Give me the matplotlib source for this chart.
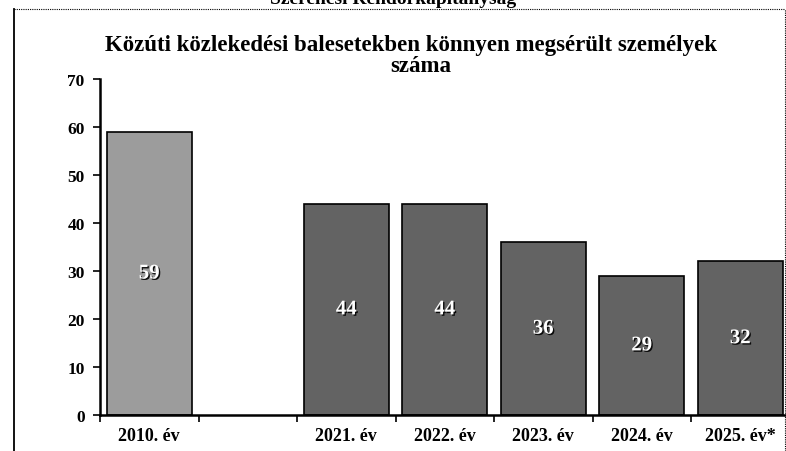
import numpy as np
import matplotlib
matplotlib.use("Agg")
import matplotlib.pyplot as plt
import matplotlib.patheffects as pe
from matplotlib.lines import Line2D

plt.rcParams['font.family'] = ['Liberation Serif', 'DejaVu Serif']

header = "Szerencsi Rendőrkapitányság"
title_lines = ["Közúti közlekedési balesetekben könnyen megsérült személyek", "száma"]
categories = ["2010. év", "", "2021. év", "2022. év", "2023. év", "2024. év", "2025. év*"]
values = [59, np.nan, 44, 44, 36, 29, 32]
bar_colors = ["#9c9c9c", "#ffffff", "#636363", "#636363", "#636363", "#636363", "#636363"]
yticks = [0, 10, 20, 30, 40, 50, 60, 70]

fig = plt.figure(figsize=(7.86, 4.52), dpi=100)
ax = fig.add_axes([100/786, 1-416/452, 689.5/786, 336/452])

x = np.arange(len(categories))
for xi, v, c in zip(x, values, bar_colors):
    if np.isnan(v):
        continue
    ax.bar(xi, v, width=0.86, color=c, edgecolor="black", linewidth=1.2, zorder=2)
    ax.text(xi, v/2, f"{v:g}", ha="center", va="center", color="white",
            fontsize=15, fontweight="bold", zorder=3,
            path_effects=[pe.withSimplePatchShadow(offset=(1, -1), shadow_rgbFace="black", alpha=0.9)])

ax.set_xlim(-0.5, len(categories)-0.5)
ax.set_ylim(0, 70)
ax.set_yticks(yticks)
ax.set_yticklabels([str(t) for t in yticks], fontsize=12.5, fontweight="bold")
ax.set_xticks(np.arange(len(categories)+1) - 0.5)
ax.set_xticklabels([])
ax.set_xticks(x, minor=True)
ax.set_xticklabels(categories, minor=True, fontsize=13, fontweight="bold")
ax.tick_params(axis="x", which="major", length=5, width=1.2, direction="out")
ax.tick_params(axis="x", which="minor", length=0, pad=9)
ax.tick_params(axis="y", length=5, width=1.2, direction="out", pad=6)
for s in ["top", "right"]:
    ax.spines[s].set_visible(False)
for s in ["left", "bottom"]:
    ax.spines[s].set_linewidth(1.8)

fig.text(411/786, 1-51/452, title_lines[0], ha="center", va="baseline", fontsize=16.5, fontweight="bold")
fig.text(421/786, 1-72/452, title_lines[1], ha="center", va="baseline", fontsize=16.5, fontweight="bold")
fig.text(393/786, 1.0, header, ha="center", va="center", fontsize=14, fontweight="bold")

fig.add_artist(Line2D([14/786, 14/786], [0, 1-10/452], transform=fig.transFigure, color="black", lw=1.3))
fig.add_artist(Line2D([14/786, 785/786], [1-10/452, 1-10/452], transform=fig.transFigure, color="black", lw=0.8, ls=(0, (1, 1))))
fig.add_artist(Line2D([785/786, 785/786], [0, 1-10/452], transform=fig.transFigure, color="black", lw=0.8, ls=(0, (1, 1))))

fig.savefig("out.png", dpi=100)
